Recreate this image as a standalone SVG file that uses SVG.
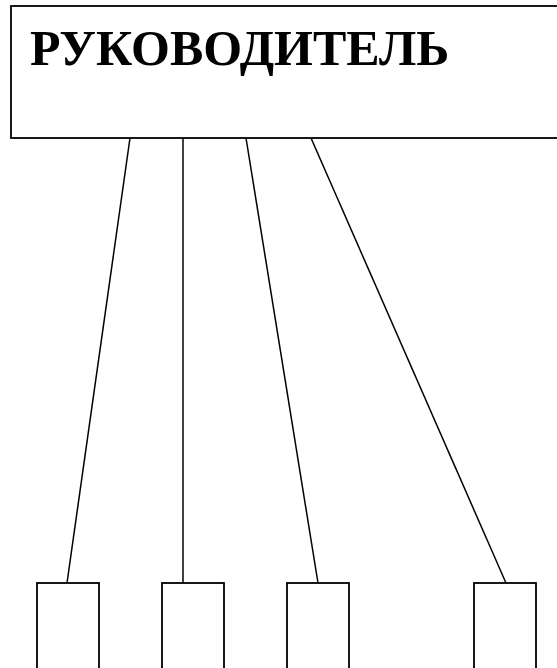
<svg xmlns="http://www.w3.org/2000/svg" width="557" height="668" viewBox="0 0 557 668">
<style>
.box{fill:#fff;stroke:#000;stroke-width:1.8}
.ln{stroke:#000;stroke-width:1.5;fill:none}
.t{font-family:"Liberation Serif","Times New Roman",serif;font-weight:bold;font-size:50px;fill:#000}
</style>
<rect width="557" height="668" fill="#fff"/>
<g id="connectors">
<line class="ln" x1="130" y1="138" x2="67" y2="583"/>
<line class="ln" x1="183" y1="138" x2="183" y2="583"/>
<line class="ln" x1="246" y1="138" x2="318" y2="583"/>
<line class="ln" x1="311" y1="138" x2="506" y2="583"/>
</g>
<g id="head">
<rect class="box" x="11" y="6" width="560" height="132"/>
<text class="t" x="30" y="65">РУКОВОДИТЕЛЬ</text>
</g>
<g id="sub1"><rect class="box" x="37" y="583" width="62" height="90"/></g>
<g id="sub2"><rect class="box" x="162" y="583" width="62" height="90"/></g>
<g id="sub3"><rect class="box" x="287" y="583" width="62" height="90"/></g>
<g id="sub4"><rect class="box" x="474" y="583" width="62" height="90"/></g>
</svg>
